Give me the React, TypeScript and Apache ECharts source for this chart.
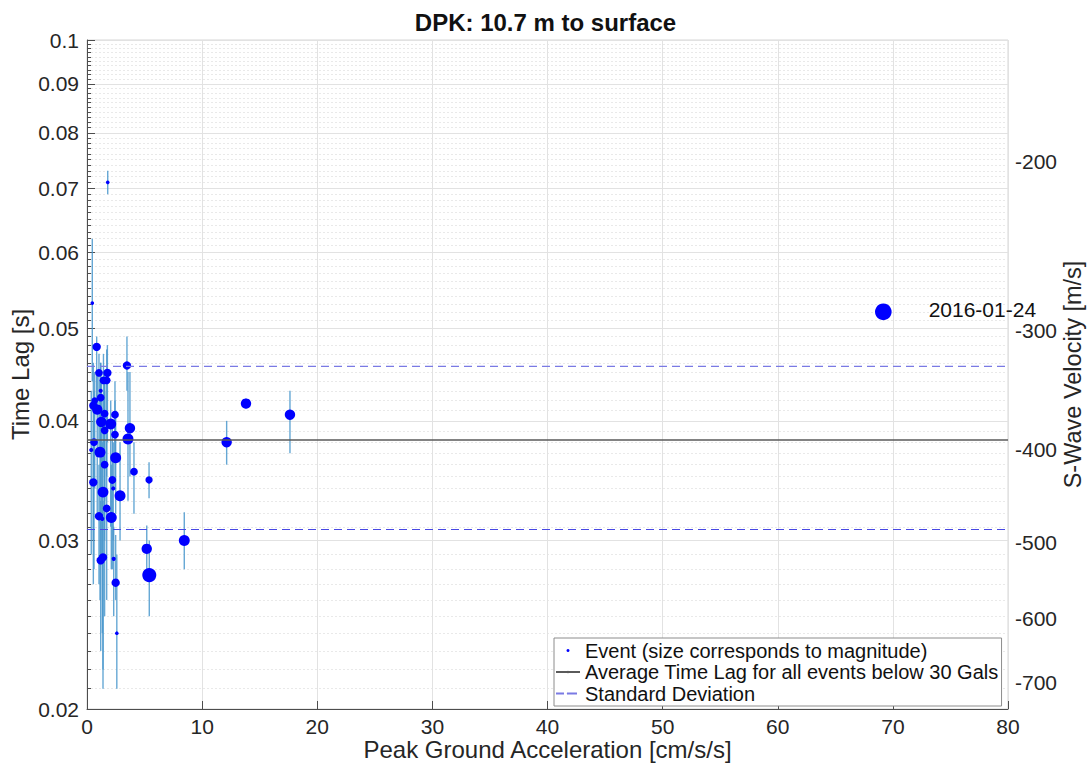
import React, { useEffect, useRef } from 'react';
import * as echarts from 'echarts';

const TITLE = 'DPK: 10.7 m to surface';
const X_NAME = 'Peak Ground Acceleration [cm/s/s]';
const Y_NAME = 'Time Lag [s]';
const Y2_NAME = 'S-Wave Velocity [m/s]';
const EVENT_NAME = 'Event (size corresponds to magnitude)';
const MEAN_NAME = 'Average Time Lag for all events below 30 Gals';
const STD_NAME = 'Standard Deviation';

// Peak ground acceleration of each event [cm/s/s]
const pga = [
  0.46, 1.8, 0.84, 3.47, 1.04, 1.77, 1.43, 1.71, 1.19, 1.19,
  0.55, 0.89, 0.67, 1.53, 2.43, 1.24, 2.06, 3.73, 1.53, 2.43,
  3.56, 0.61, 0.37, 1.13, 2.49, 1.53, 4.08, 0.55, 2.2, 2.28,
  5.39, 1.39, 2.87, 1.71, 1.04, 2.11, 1.33, 5.19, 1.39, 1.19,
  2.32, 5.41, 2.49, 2.59, 8.45, 12.13, 13.81, 17.63, 69.17,
];
// Time lag of each event [s]
const timeLag = [
  0.0531, 0.071, 0.0478, 0.0457, 0.0449, 0.0449, 0.0441, 0.0441, 0.043, 0.0423,
  0.0415, 0.0411, 0.042, 0.0407, 0.0406, 0.0399, 0.0397, 0.0393, 0.0391, 0.0387,
  0.0383, 0.038, 0.0373, 0.0371, 0.0366, 0.036, 0.0354, 0.0345, 0.0347, 0.034,
  0.0347, 0.0337, 0.0334, 0.0324, 0.0318, 0.0317, 0.0316, 0.0294, 0.0288, 0.0286,
  0.0287, 0.0276, 0.0271, 0.024, 0.03, 0.038, 0.0417, 0.0406, 0.052,
];
// Error bar bounds [s]
const lagLow = [
  0.044, 0.069, 0.041, 0.043, 0.037, 0.038, 0.036, 0.035, 0.036, 0.034,
  0.03, 0.032, 0.034, 0.033, 0.037, 0.029, 0.031, 0.035, 0.03, 0.034,
  0.033, 0.028, 0.029, 0.026, 0.032, 0.025, 0.032, 0.027, 0.028, 0.03,
  0.0332, 0.022, 0.03, 0.026, 0.027, 0.028, 0.024, 0.028, 0.021, 0.023,
  0.025, 0.025, 0.026, 0.021, 0.028, 0.036, 0.0412, 0.037, 0.052,
];
const lagHigh = [
  0.062, 0.073, 0.049, 0.049, 0.047, 0.048, 0.047, 0.0475, 0.046, 0.046,
  0.046, 0.045, 0.045, 0.045, 0.044, 0.044, 0.042, 0.045, 0.043, 0.042,
  0.045, 0.043, 0.043, 0.044, 0.041, 0.044, 0.038, 0.04, 0.04, 0.038,
  0.0362, 0.042, 0.038, 0.038, 0.036, 0.036, 0.038, 0.0311, 0.033, 0.033,
  0.031, 0.03, 0.0304, 0.029, 0.0321, 0.04, 0.0422, 0.043, 0.052,
];
// Magnitude of each event (controls marker size)
const magnitude = [
  0.7, 0.7, 1.6, 1.6, 1.5, 1.6, 1.5, 1.5, 0.8, 1.5,
  1.6, 2.0, 1.3, 1.5, 1.5, 2.0, 2.1, 2.0, 1.5, 1.5,
  2.1, 1.5, 0.8, 2.1, 2.1, 1.5, 1.5, 1.6, 1.5, 0.8,
  1.4, 2.1, 2.1, 1.5, 1.6, 2.1, 0.8, 2.0, 1.6, 1.6,
  0.8, 2.7, 1.6, 0.7, 2.1, 2.0, 2.0, 2.0, 3.2,
];
const annotatedIndex = 48;
const annotation = '2016-01-24';

const meanLag = 0.0382;
const stdUpper = 0.0456;
const stdLower = 0.0308;
const xRange = [0, 80];

const yMajorTicks = [0.02, 0.03, 0.04, 0.05, 0.06, 0.07, 0.08, 0.09, 0.1];
const velocityTicks = [-200, -300, -400, -500, -600, -700];
const VEL_CONST = 14.93; // velocity = -VEL_CONST / timeLag

const FONT = '"Liberation Sans", Arial, Helvetica, sans-serif';

export default function App() {
  const ref = useRef<HTMLDivElement>(null);
  useEffect(() => {
    if (!ref.current) return;
    const chart = echarts.init(ref.current, undefined, { renderer: 'svg' });

    const yMinorTicks: number[] = [];
    for (let i = 21; i < 100; i++) {
      if (i % 10 !== 0) yMinorTicks.push(i / 1000);
    }
    const velPos = velocityTicks.map((v) => VEL_CONST / Math.abs(v));

    const eventData = pga.map((x, i) => {
      const item: any = { value: [x, timeLag[i], magnitude[i]] };
      if (i === annotatedIndex) {
        item.label = {
          show: true,
          position: 'right',
          distance: 37,
          offset: [0, -2],
          formatter: annotation,
          fontSize: 21,
          lineHeight: 16,
          color: '#111',
          fontFamily: FONT,
        };
      }
      return item;
    });
    const errData = pga.map((x, i) => [x, lagLow[i], lagHigh[i]]);

    const axisDark = '#4d4d4d';
    const textColor = '#262626';

    chart.setOption({
      animation: false,
      backgroundColor: '#fff',
      textStyle: { fontFamily: FONT },
      title: {
        text: TITLE,
        left: 'center',
        top: 5,
        textStyle: { fontSize: 24, fontWeight: 'bold', color: '#111', fontFamily: FONT },
      },
      grid: {
        left: 87,
        right: 83,
        top: 40,
        bottom: 55,
        show: true,
        borderColor: '#d6d6d6',
        borderWidth: 1,
        backgroundColor: 'transparent',
        containLabel: false,
        outerBoundsMode: 'none',
      },
      legend: {
        data: [EVENT_NAME, MEAN_NAME, STD_NAME],
        orient: 'vertical',
        left: 554,
        top: 638,
        itemWidth: 24,
        itemHeight: 3,
        itemGap: 0.5,
        padding: [2, 3, 2, 1],
        backgroundColor: '#fff',
        borderColor: '#8c8c8c',
        borderWidth: 1,
        borderRadius: 0,
        selectedMode: false,
        textStyle: { fontSize: 20, color: '#111', lineHeight: 21, fontFamily: FONT },
      },
      xAxis: {
        type: 'value',
        min: xRange[0],
        max: xRange[1],
        interval: 10,
        name: X_NAME,
        nameLocation: 'middle',
        nameMoveOverlap: false,
        nameGap: 29,
        nameTextStyle: { fontSize: 24, lineHeight: 22, color: textColor, fontFamily: FONT },
        axisLine: { show: true, lineStyle: { color: axisDark, width: 1 } },
        axisTick: { show: true, inside: true, length: 8, lineStyle: { color: axisDark } },
        axisLabel: { fontSize: 21, lineHeight: 20, color: textColor, margin: 7, fontFamily: FONT },
        splitLine: { show: true, lineStyle: { color: '#e2e2e2', width: 1 } },
      },
      yAxis: [
        {
          type: 'log',
          logBase: 10,
          min: 0.02,
          max: 0.1,
          position: 'left',
          name: Y_NAME,
          nameLocation: 'middle',
          nameMoveOverlap: false,
          nameGap: 55,
          nameTextStyle: { fontSize: 24, color: textColor, fontFamily: FONT },
          axisLine: { show: true, lineStyle: { color: axisDark, width: 1 } },
          axisTick: { show: true, inside: true, length: 8, customValues: yMajorTicks, lineStyle: { color: axisDark } },
          axisLabel: {
            show: true,
            customValues: yMajorTicks,
            fontSize: 21,
            color: textColor,
            margin: 8,
            fontFamily: FONT,
            formatter: (v: number) => String(parseFloat(Number(v).toFixed(3))),
          },
          splitLine: { show: true, lineStyle: { color: '#e2e2e2', width: 1 } },
          minorTick: { show: false },
          minorSplitLine: { show: false },
        },
        {
          type: 'log',
          logBase: 10,
          min: 0.02,
          max: 0.1,
          position: 'left',
          axisLine: { show: false },
          axisTick: { show: true, inside: true, length: 4, customValues: yMinorTicks, lineStyle: { color: axisDark } },
          axisLabel: { show: false, customValues: yMinorTicks },
          splitLine: { show: true, lineStyle: { color: '#e9e9e9', width: 1, type: [2, 2] } },
        },
        {
          type: 'log',
          logBase: 10,
          min: 0.02,
          max: 0.1,
          position: 'right',
          name: Y2_NAME,
          nameLocation: 'middle',
          nameMoveOverlap: false,
          nameGap: 53,
          nameTextStyle: { fontSize: 23.5, color: textColor, fontFamily: FONT },
          axisLine: { show: false },
          axisTick: { show: false, customValues: velPos },
          axisLabel: {
            show: true,
            customValues: velPos,
            fontSize: 21,
            lineHeight: 16,
            color: textColor,
            margin: 7,
            fontFamily: FONT,
            formatter: (v: number) => {
              let best = velocityTicks[0];
              let bd = Infinity;
              velocityTicks.forEach((t, i) => {
                const d = Math.abs(velPos[i] - v);
                if (d < bd) { bd = d; best = t; }
              });
              return String(best);
            },
          },
          splitLine: { show: false },
        },
      ],
      series: [
        {
          type: 'custom',
          name: 'Error',
          xAxisIndex: 0,
          yAxisIndex: 0,
          z: 1,
          clip: true,
          encode: { x: 0, y: [1, 2] },
          data: errData,
          renderItem: (params: any, api: any) => {
            const x = api.value(0);
            const p1 = api.coord([x, api.value(1)]);
            const p2 = api.coord([x, api.value(2)]);
            return {
              type: 'line',
              shape: { x1: p1[0], y1: p1[1], x2: p2[0], y2: p2[1] },
              style: { stroke: '#4a98cc', lineWidth: 1.4, opacity: 0.85 },
            };
          },
        },
        {
          type: 'scatter',
          name: EVENT_NAME,
          xAxisIndex: 0,
          yAxisIndex: 0,
          z: 3,
          symbol: 'circle',
          symbolSize: (d: number[]) => d[2] * 5.2,
          itemStyle: { color: '#0000ff', opacity: 1 },
          emphasis: { disabled: true },
          data: eventData,
        },
        {
          type: 'line',
          name: MEAN_NAME,
          xAxisIndex: 0,
          yAxisIndex: 0,
          z: 4,
          symbol: 'none',
          lineStyle: { color: '#5a5a5a', width: 1.5 },
          itemStyle: { color: '#5a5a5a' },
          data: [[xRange[0], meanLag], [xRange[1], meanLag]],
        },
        {
          type: 'line',
          name: STD_NAME,
          xAxisIndex: 0,
          yAxisIndex: 0,
          z: 4,
          symbol: 'none',
          lineStyle: { color: '#7a7ae4', width: 1.2, type: [8, 5] },
          itemStyle: { color: '#7a7ae4' },
          data: [[xRange[0], stdUpper], [xRange[1], stdUpper]],
        },
        {
          type: 'line',
          name: STD_NAME,
          xAxisIndex: 0,
          yAxisIndex: 0,
          z: 4,
          symbol: 'none',
          lineStyle: { color: '#4848e4', width: 1.2, type: [8, 5] },
          itemStyle: { color: '#4848e4' },
          data: [[xRange[0], stdLower], [xRange[1], stdLower]],
        },
      ],
    });
    return () => chart.dispose();
  }, []);
  return (
    <div
      ref={ref}
      style={{ position: 'fixed', left: 0, top: 0, width: 1091, height: 764, background: '#fff' }}
    />
  );
}
